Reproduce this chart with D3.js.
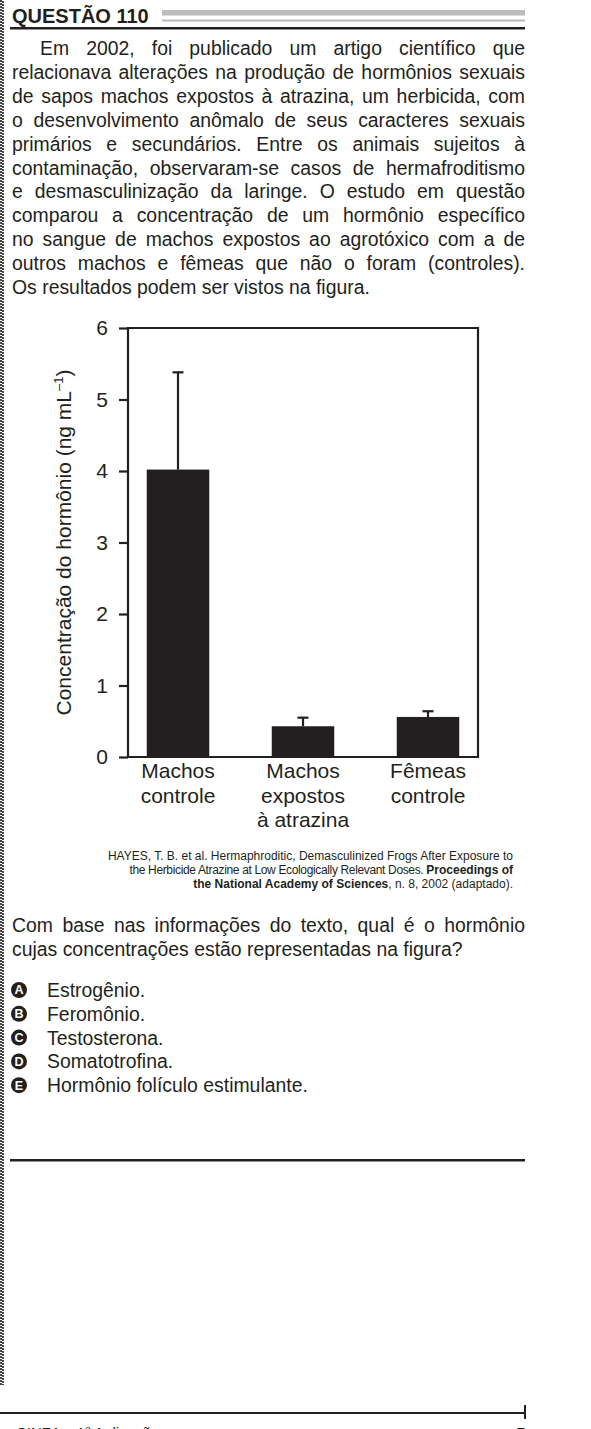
<!DOCTYPE html>
<html>
<head>
<meta charset="utf-8">
<script src="https://cdn.jsdelivr.net/npm/d3@7"></script>
<style>
  body { margin: 0; background: #fff; }
  svg text { font-family: "Liberation Sans", Arial, sans-serif; fill: #231f20; }
</style>
</head>
<body>
<div id="page"></div>
<script>
var ink = "#231f20";

// chart data
var categories = ["Machos controle", "Machos expostos à atrazina", "Fêmeas controle"];
var catLines = [["Machos", "controle"], ["Machos", "expostos", "à atrazina"], ["Fêmeas", "controle"]];
var means = [4.02, 0.43, 0.56];
var errors = [1.36, 0.12, 0.08];
var yTicks = [0, 1, 2, 3, 4, 5, 6];

// page text
var paragraph = [
  "Em 2002, foi publicado um artigo científico que",
  "relacionava alterações na produção de hormônios sexuais",
  "de sapos machos expostos à atrazina, um herbicida, com",
  "o desenvolvimento anômalo de seus caracteres sexuais",
  "primários e secundários. Entre os animais sujeitos à",
  "contaminação, observaram-se casos de hermafroditismo",
  "e desmasculinização da laringe. O estudo em questão",
  "comparou a concentração de um hormônio específico",
  "no sangue de machos expostos ao agrotóxico com a de",
  "outros machos e fêmeas que não o foram (controles).",
  "Os resultados podem ser vistos na figura."
];
var question = [
  "Com base nas informações do texto, qual é o hormônio",
  "cujas concentrações estão representadas na figura?"
];
var letters = ["A", "B", "C", "D", "E"];
var options = ["Estrogênio.", "Feromônio.", "Testosterona.", "Somatotrofina.", "Hormônio folículo estimulante."];

var W = 591, H = 1429;
var svg = d3.select("#page").append("svg")
    .attr("width", W)
    .attr("height", H);

// left stippled border
[1, 3].forEach(function(x, i) {
  svg.append("line")
      .attr("x1", x).attr("x2", x)
      .attr("y1", i).attr("y2", 1385)
      .attr("stroke", "#444")
      .attr("stroke-width", 2)
      .attr("stroke-dasharray", "2,1");
});

// header
svg.append("text")
    .attr("x", 12).attr("y", 23)
    .attr("font-weight", "bold")
    .attr("font-size", 20)
    .text("QUESTÃO 110");
svg.append("rect").attr("x", 162).attr("y", 10).attr("width", 363).attr("height", 5.5).attr("fill", "#bcbcbc");
svg.append("rect").attr("x", 162).attr("y", 19.5).attr("width", 363).attr("height", 2).attr("fill", "#bcbcbc");
svg.append("rect").attr("x", 10).attr("y", 27).attr("width", 515).attr("height", 2.5).attr("fill", ink);

// justified text lines
var left = 12, right = 525;
function textBlock(lines, y0, step, size, indent) {
  lines.forEach(function(line, i) {
    var t = svg.append("text")
        .attr("y", y0 + i * step)
        .attr("font-size", size);
    var words = line.split(" ");
    var spans = words.map(function(w) { return t.append("tspan").text(w); });
    var x0 = left + (i === 0 ? indent : 0);
    var widths = spans.map(function(s) { return s.node().getComputedTextLength(); });
    var total = d3.sum(widths);
    var space = t.append("tspan").text("\u00a0");
    var sw = space.node().getComputedTextLength();
    space.remove();
    var gap = (i === lines.length - 1) ? sw : (right - x0 - total) / (words.length - 1);
    var x = x0;
    spans.forEach(function(s, j) {
      s.attr("x", x);
      x += widths[j] + gap;
    });
  });
}
textBlock(paragraph, 55, 23.9, 19.4, 28);
textBlock(question, 932, 23.9, 19.4, 0);

// chart
var x = d3.scaleBand()
    .domain(categories)
    .range([128, 478])
    .paddingInner(0.5)
    .paddingOuter(0.15);
var y = d3.scaleLinear()
    .domain([0, 6])
    .range([757, 328]);

var chart = svg.append("g");

chart.selectAll("rect.bar")
    .data(means)
    .enter().append("rect")
    .attr("class", "bar")
    .attr("x", function(d, i) { return x(categories[i]); })
    .attr("width", x.bandwidth())
    .attr("y", function(d) { return y(d); })
    .attr("height", function(d) { return y(0) - y(d); })
    .attr("fill", ink);

var err = chart.selectAll("g.err")
    .data(means)
    .enter().append("g")
    .attr("class", "err")
    .attr("transform", function(d, i) { return "translate(" + (x(categories[i]) + x.bandwidth() / 2) + ",0)"; });
err.append("line")
    .attr("y1", function(d) { return y(d); })
    .attr("y2", function(d, i) { return y(d + errors[i]); })
    .attr("stroke", ink).attr("stroke-width", 2.2);
err.append("line")
    .attr("x1", -5.5).attr("x2", 5.5)
    .attr("y1", function(d, i) { return y(d + errors[i]); })
    .attr("y2", function(d, i) { return y(d + errors[i]); })
    .attr("stroke", ink).attr("stroke-width", 2.2);

// frame
chart.append("path")
    .attr("d", "M" + x.range()[0] + "," + y(6) + "H" + x.range()[1] + "V" + y(0) + "H" + x.range()[0] + "Z")
    .attr("fill", "none")
    .attr("stroke", ink)
    .attr("stroke-width", 2.2);

var yAxis = chart.append("g")
    .attr("transform", "translate(" + x.range()[0] + ",0)")
    .call(d3.axisLeft(y).tickValues(yTicks).tickSize(9).tickPadding(11).tickFormat(d3.format("d")));
yAxis.select(".domain").remove();
yAxis.selectAll(".tick line").attr("stroke", ink).attr("stroke-width", 2.2);
yAxis.selectAll(".tick text")
    .attr("font-size", 21)
    .attr("font-family", "Liberation Sans, Arial, sans-serif")
    .attr("fill", ink);

// category labels
var labels = chart.selectAll("text.cat")
    .data(catLines)
    .enter().append("text")
    .attr("class", "cat")
    .attr("text-anchor", "middle")
    .attr("font-size", 21)
    .attr("transform", function(d, i) { return "translate(" + (x(categories[i]) + x.bandwidth() / 2) + "," + (y(0) + 21) + ")"; });
labels.selectAll("tspan")
    .data(function(d) { return d; })
    .enter().append("tspan")
    .attr("x", 0)
    .attr("y", function(d, j) { return j * 24.5; })
    .text(function(d) { return d; });

// y axis title
var yt = chart.append("text")
    .attr("transform", "translate(71," + (y(3)) + ") rotate(-90)")
    .attr("text-anchor", "middle")
    .attr("font-size", 21);
yt.append("tspan").text("Concentração do hormônio (ng mL");
yt.append("tspan").attr("font-size", 13).attr("dy", -8).text("–1");
yt.append("tspan").attr("dy", 8).text(")");

// citation
var cite = svg.append("g").attr("font-size", 12);
cite.append("text").attr("x", 513).attr("y", 860).attr("text-anchor", "end")
    .attr("font-size", 12)
    .text("HAYES, T. B. et al. Hermaphroditic, Demasculinized Frogs After Exposure to");
var c2 = cite.append("text").attr("x", 513).attr("y", 874).attr("text-anchor", "end").attr("font-size", 12);
c2.append("tspan").attr("letter-spacing", -0.35).text("the Herbicide Atrazine at Low Ecologically Relevant Doses. ");
c2.append("tspan").attr("font-weight", "bold").text("Proceedings of");
var c3 = cite.append("text").attr("x", 513).attr("y", 888).attr("text-anchor", "end").attr("font-size", 12);
c3.append("tspan").attr("font-weight", "bold").text("the National Academy of Sciences");
c3.append("tspan").text(", n. 8, 2002 (adaptado).");

// options
var opt = svg.selectAll("g.opt")
    .data(options)
    .enter().append("g")
    .attr("class", "opt")
    .attr("transform", function(d, i) { return "translate(0," + (997 + i * 23.8) + ")"; });
opt.append("circle")
    .attr("cx", 19).attr("cy", -7)
    .attr("r", 8)
    .attr("fill", ink);
opt.append("text")
    .attr("x", 19).attr("y", -2.6)
    .attr("text-anchor", "middle")
    .attr("font-size", 12.5)
    .attr("font-weight", "bold")
    .style("fill", "#fff")
    .text(function(d, i) { return letters[i]; });
opt.append("text")
    .attr("x", 47).attr("y", 0)
    .attr("font-size", 19.4)
    .text(function(d) { return d; });

// bottom rule
svg.append("rect").attr("x", 10).attr("y", 1159).attr("width", 515).attr("height", 2.5).attr("fill", ink);

// footer (cut by the page edge, as in the scan)
svg.append("rect").attr("x", 0).attr("y", 1412).attr("width", 526).attr("height", 2).attr("fill", ink);
svg.append("rect").attr("x", 524).attr("y", 1405).attr("width", 2).attr("height", 14).attr("fill", ink);
svg.append("text").attr("x", 16).attr("y", 1438).attr("font-size", 15).text("CINZA – 1ª Aplicação");
svg.append("text").attr("x", 525).attr("y", 1438).attr("text-anchor", "end").attr("font-size", 15).text("7");
</script>
</body>
</html>
